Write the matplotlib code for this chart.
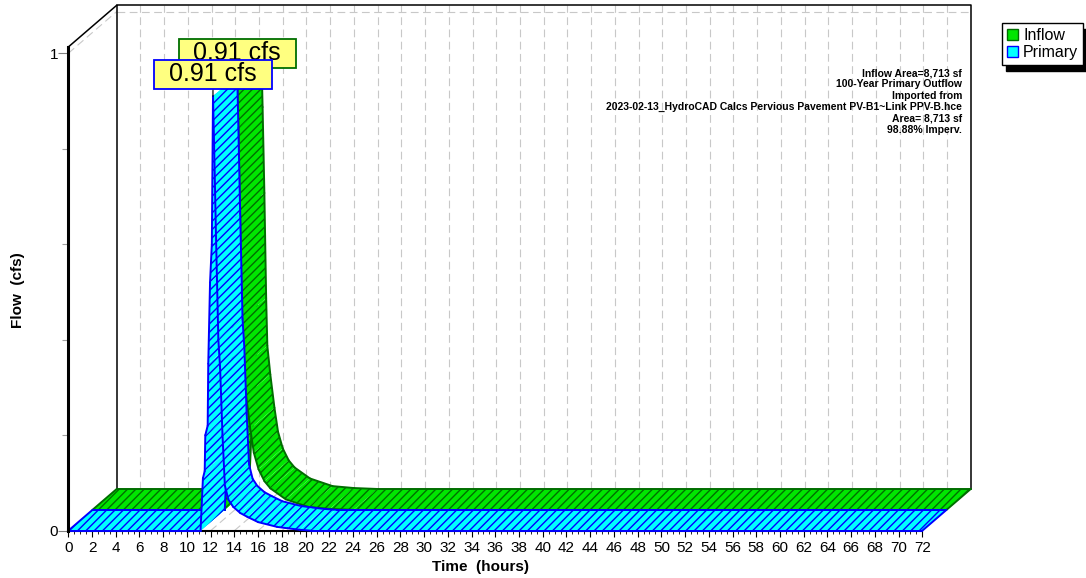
import numpy as np
import matplotlib.pyplot as plt
from matplotlib.patches import Polygon, Patch
from matplotlib.ticker import MultipleLocator

plt.rcParams['font.family'] = ['Liberation Sans', 'DejaVu Sans']
plt.rcParams['hatch.linewidth'] = 1.0

# hydrograph values (hours, cfs)
inflow_t = [0, 11.15, 11.35, 11.5, 11.55, 11.75, 11.8, 11.95, 12.1, 12.2, 12.3, 12.45,
            12.6, 12.7, 12.95, 13.3, 13.6, 14.0, 14.5, 15.0, 16.3, 18.2, 20.0, 22.0, 72]
inflow_q = [0, 0, 0.11, 0.125, 0.2, 0.22, 0.35, 0.52, 0.6, 0.91, 0.80, 0.62,
            0.40, 0.30, 0.24, 0.17, 0.12, 0.085, 0.06, 0.045, 0.022, 0.006, 0.002, 0, 0]

primary_t = [0, 11.15, 11.35, 11.5, 11.55, 11.75, 11.8, 11.95, 12.1, 12.2, 12.3, 12.45,
             12.65, 12.8, 13.0, 13.2, 13.5, 13.9, 14.5, 15.1, 16.0, 17.6, 18.5, 19.5, 20.5, 72]
primary_q = [0, 0, 0.11, 0.125, 0.2, 0.22, 0.35, 0.52, 0.6, 0.91, 0.80, 0.62,
             0.40, 0.34, 0.20, 0.095, 0.065, 0.05, 0.037, 0.029, 0.018, 0.008, 0.005, 0.002, 0, 0]

series_names = ['Inflow', 'Primary']
face_colors = ['#00E600', '#00FFFF']
edge_colors = ['#006E00', '#0000FF']

info_lines = ['Inflow Area=8,713 sf',
              '100-Year Primary Outflow',
              'Imported from',
              '2023-02-13_HydroCAD Calcs Pervious Pavement PV-B1~Link PPV-B.hce',
              'Area= 8,713 sf',
              '98.88% Imperv.']

W, H = 1086, 578
fig = plt.figure(figsize=(W / 100, H / 100), dpi=100)
ax = fig.add_axes([68.3 / W, (H - 530.7) / H, 854 / W, 483.7 / H])
top = 483.7 / 477.4
ax.set_xlim(0, 72)
ax.set_ylim(0, top)

# 3-D depth step of one series, in data units
DX = 24.2 / (854 / 72)
DY = 20.85 / 477.4
BX, BY = 2 * DX, 2 * DY

grid_kw = dict(color='#C8C8C8', lw=0.8, ls=(0, (7, 4)), zorder=1, clip_on=False)
for t in range(2, 72, 2):
    ax.plot([t + BX, t + BX], [BY, top + BY], **grid_kw)
    ax.plot([t, t + BX], [0, BY], **grid_kw)
ax.plot([BX, 72 + BX], [1 + BY, 1 + BY], **grid_kw)
ax.plot([0, BX], [1, 1 + BY], **grid_kw)

wall_kw = dict(color='black', lw=1.1, zorder=1.5, clip_on=False)
ax.plot([BX, BX, 72 + BX, 72 + BX], [BY, top + BY, top + BY, BY], **wall_kw)
ax.plot([0, BX], [top, top + BY], **wall_kw)


def ribbon(t, q, k, face, edge, z):
    t = np.asarray(t, float)
    q = np.asarray(q, float)
    fx, fy = t + k * DX, q + k * DY
    bx, by = fx + DX, fy + DY
    line_kw = dict(color=edge, lw=1.4, clip_on=False, solid_capstyle='round')
    for i in range(len(t) - 1):
        zi = z + i * 0.001
        quad = [(fx[i], fy[i]), (fx[i + 1], fy[i + 1]), (bx[i + 1], by[i + 1]), (bx[i], by[i])]
        ax.add_patch(Polygon(quad, closed=True, facecolor=face, edgecolor=edge, lw=0,
                             hatch='////', zorder=zi, clip_on=False))
        ax.plot(fx[i:i + 2], fy[i:i + 2], zorder=zi + 0.0005, **line_kw)
        ax.plot(bx[i:i + 2], by[i:i + 2], zorder=zi + 0.0005, **line_kw)
    ax.plot([fx[0], bx[0]], [fy[0], by[0]], zorder=z + 0.5, **line_kw)
    ax.plot([fx[-1], bx[-1]], [fy[-1], by[-1]], zorder=z + 0.5, **line_kw)


series = [(inflow_t, inflow_q), (primary_t, primary_q)]
depth = [1, 0]
for n, (t, q) in enumerate(series):
    ribbon(t, q, depth[n], face_colors[n], edge_colors[n], 3 + 2 * n)

# peak labels
for n, (t, q) in enumerate(series):
    i = int(np.argmax(q))
    k = depth[n]
    ax.annotate('\u2009 %.2f cfs \u2009' % q[i], xy=(t[i] + k * DX, q[i] + k * DY),
                xytext=(0, 10), textcoords='offset pixels', ha='center', va='bottom',
                fontsize=18, annotation_clip=False, zorder=10 + n,
                bbox=dict(boxstyle='square,pad=0.11', fc='#FFFF80', ec=edge_colors[n], lw=1.3),
                arrowprops=dict(arrowstyle='-', color='black', lw=0.8, shrinkA=0, shrinkB=0))

for side in ['top', 'right']:
    ax.spines[side].set_visible(False)
ax.spines['left'].set_linewidth(2.2)
ax.spines['bottom'].set_linewidth(1.5)
ax.spines['left'].set_zorder(8)

ax.xaxis.set_major_locator(MultipleLocator(2))
ax.xaxis.set_minor_locator(MultipleLocator(0.5))
ax.set_yticks([0, 1])
ax.set_yticklabels(['0', '1'])
ax.yaxis.set_minor_locator(MultipleLocator(0.2))
ax.tick_params(axis='x', which='major', length=4, width=0.8, pad=3.5, labelsize=11)
ax.tick_params(axis='x', which='minor', length=2.2, width=0.6)
ax.tick_params(axis='y', which='major', length=7, width=0.8, pad=0.5, labelsize=11, color='#808080')
ax.tick_params(axis='y', which='minor', length=4.5, width=0.8, color='#A0A0A0')
ax.set_facecolor('none')

fig.text(481 / W, 1 - 567 / H, 'Time  (hours)', ha='center', va='center',
         fontsize=11, fontweight='bold')
fig.text(18 / W, 1 - 290 / H, 'Flow  (cfs)', ha='center', va='center', rotation=90,
         fontsize=11, fontweight='bold')

for j, line in enumerate(info_lines):
    fig.text(962 / W, 1 - (73 + 11.4 * j) / H, line, ha='right', va='center',
             fontsize=7.5, fontweight='bold')

handles = [Patch(facecolor=face_colors[n], edgecolor=edge_colors[n], lw=1) for n in range(2)]
fig.legend(handles, series_names, loc='upper right', bbox_to_anchor=(1083 / W, 1 - 23 / H),
           borderaxespad=0, fontsize=11.5, handlelength=0.7, handleheight=0.7,
           handletextpad=0.3, borderpad=0.3, labelspacing=0.15, fancybox=False,
           framealpha=1, edgecolor='black',
           shadow={'ox': 3, 'oy': -4, 'facecolor': 'black', 'edgecolor': 'black', 'alpha': 1})

fig.savefig('out.png', dpi=100)
